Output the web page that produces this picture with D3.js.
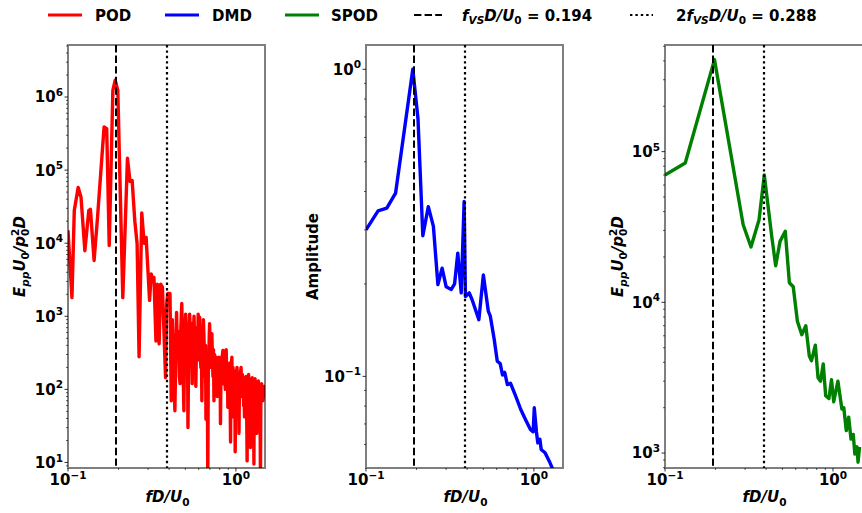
<html>
<head>
<script src="https://d3js.org/d3.v7.min.js"></script>
<style>
body { margin: 0; background: #fff; }
svg text { font-family: "DejaVu Sans", sans-serif; font-weight: bold; fill: #000; white-space: pre; }
.curve { fill: none; stroke-width: 3.4; stroke-linejoin: round; }
.spine { fill: none; stroke: #000; stroke-opacity: 0.5; stroke-width: 2; }
</style>
</head>
<body>
<div id="chart"></div>
<script>
/* POD energy spectrum */
var podFreq = [0.100,0.1056,0.109,0.115,0.1195,0.126,0.133,0.136,0.143,0.150,
  0.164,0.170,0.176,0.185,0.191,0.198,0.212,0.226,0.234,0.241,
  0.250,0.258,0.265,0.275,0.284,0.292,0.306,0.313,0.320,0.325,
  0.334,0.340,0.349,0.356,0.365,0.381,0.387,0.393,0.405,0.412,
  0.418,0.424,0.433,
  0.443,0.449,0.454,0.457,0.461,0.465,0.470,0.476,0.481,0.485,
  0.490,0.495,0.502,0.506,0.510,0.514,0.518,0.524,0.530,0.535,
  0.540,0.544,0.549,0.556,0.563,0.567,0.570,0.574,0.577,0.582,
  0.587,0.591,0.596,0.602,0.608,0.613,0.618,0.622,0.627,0.631,
  0.635,0.640,0.644,0.650,0.655,0.659,0.663,0.668,0.672,0.676,
  0.680,0.685,0.690,0.694,0.697,0.703,0.708,0.713,0.719,0.724,
  0.730,0.735,0.740,0.746,0.752,0.757,0.763,0.769,0.775,0.783,
  0.792,0.796,0.800,0.805,0.809,0.815,0.820,0.828,0.837,0.842,
  0.846,0.850,0.855,0.860,0.865,0.870,0.875,0.880,0.885,0.890,
  0.895,0.902,0.910,0.920,0.929,0.934,0.938,0.942,0.946,0.950,
  0.955,0.961,0.967,0.972,0.978,0.984,0.990,0.997,1.003,1.009,
  1.015,1.022,1.030,1.036,1.043,1.050,1.058,1.065,1.073,1.079,
  1.085,1.092,1.100,1.106,1.112,1.118,1.125,1.132,1.140,1.150,
  1.158,1.166,1.172,1.178,1.184,1.190,1.197,1.205,1.212,1.220,
  1.228,1.235,1.242,1.250,1.257,1.265,1.272,1.280,1.285,1.290,
  1.295,1.300,1.308,1.315,1.322,1.330,1.338,1.345,1.352,1.360,
  1.370,1.380,1.390,1.400,1.408,1.415,1.422,1.430,1.445,1.460,
  1.475,1.490];
var podAmp = [1.5e4,1.8e3,2.8e4,5.8e4,4.3e4,7.9e3,2.8e4,2.9e4,5.8e3,2.3e4,
  3.9e5,3.7e5,9.3e3,1.23e6,1.7e6,1.23e6,1.8e3,1.45e5,7.0e4,7.2e4,
  2.0e4,9.8e3,2.8e2,2.6e4,1.0e4,1.2e4,1.65e3,3.8e3,3.0e3,3.4e3,
  4.6e2,2.75e3,4.2e2,2.75e3,2.5e3,1.45e2,1.5e3,2.05e3,2.05e3,70,
  9e2,3.0e2,51,
  1130,300,620,460,150,120,700,1500,400,180,
  51,500,1070,600,250,700,30,400,1070,650,
  300,800,120,450,1000,500,200,700,110,350,
  600,250,1070,500,970,400,200,500,70,250,
  400,900,600,300,150,400,39,200,300,150,
  5,250,300,550,790,350,200,450,580,300,
  150,350,70,300,250,150,275,180,80,200,
  275,150,100,250,34,180,150,280,340,200,
  120,230,245,130,100,300,350,200,120,220,
  57,200,150,230,19,150,130,220,275,150,
  110,200,42,180,120,160,14,150,100,160,
  200,120,70,150,25,130,110,170,200,130,
  80,160,145,90,60,130,42,140,110,150,
  60,10.5,90,120,90,160,110,50,130,16,
  110,80,120,145,100,50,110,9.5,80,60,
  120,140,100,60,110,25,120,90,110,130,
  80,40,100,6,90,70,120,107,70,87,
  110,107];

/* DMD mode amplitudes */
var dmdFreq = [0.100,0.118,0.133,0.150,0.190,0.204,0.218,0.235,0.252,0.268,
  0.284,0.300,0.322,0.337,0.352,0.369,0.384,0.391,0.412,0.428,
  0.470,0.500,0.535,0.550,0.580,0.605,0.630,0.650,0.670,0.695,
  0.725,0.780,0.835,0.895,0.955,0.990,1.005,1.035,1.055,1.085,
  1.105,1.165,1.205,1.245,1.285,1.325];
var dmdAmp = [0.300,0.346,0.353,0.395,1.000,0.690,0.287,0.357,0.308,0.199,
  0.225,0.196,0.192,0.200,0.252,0.187,0.371,0.182,0.187,0.178,
  0.153,0.214,0.163,0.157,0.132,0.112,0.110,0.101,0.103,0.094,
  0.095,0.086,0.078,0.072,0.067,0.066,0.079,0.066,0.0607,0.0624,
  0.0578,0.0564,0.0543,0.0524,0.0503,0.048];

/* SPOD energy spectrum */
var spodFreq = [0.100,0.132,0.197,0.292,0.325,0.363,0.390,0.432,0.456,0.484,
  0.520,0.550,0.580,0.614,0.652,0.689,0.723,0.745,0.785,0.815,
  0.843,0.875,0.905,0.946,0.980,1.010,1.070,1.130,1.160,1.200,
  1.240,1.280,1.320,1.350,1.390,1.410,1.440];
var spodAmp = [7.0e4,8.4e4,4.08e5,3.27e4,2.33e4,3.53e4,7.0e4,2.74e4,1.75e4,2.54e4,
  2.96e4,1.35e4,1.27e4,7.5e3,6.1e3,7.0e3,4.4e3,4.1e3,5.2e3,3.16e3,
  3.0e3,3.9e3,2.4e3,2.3e3,3.07e3,2.19e3,3.0e3,1.96e3,2.0e3,1.41e3,
  1.73e3,1.24e3,1.33e3,985,1.1e3,870,1.1e3];

var fVS = 0.194;
var xTicks = [0.1, 1];
var podTicks = [1e1, 1e2, 1e3, 1e4, 1e5, 1e6];
var dmdTicks = [0.1, 1];
var spodTicks = [1e3, 1e4, 1e5];
var seriesNames = ["POD", "DMD", "SPOD"];
var seriesColors = ["red", "blue", "green"];

var width = 862;
var height = 513;
var plotTop = 45;
var plotBottom = 468;
var fs = 15;

var svg = d3.select("#chart").append("svg")
  .attr("width", width)
  .attr("height", height);

/* mathtext-ish helper: parts with italic / sub / sup */
function mathText(sel, parts, size) {
  var shift = 0;
  parts.forEach(function(p) {
    var s = p.sub ? 0.25 * size : (p.sup ? -0.42 * size : 0);
    var ts = sel.append("tspan")
      .text(p.t)
      .attr("dy", s - shift)
      .style("font-size", ((p.sub || p.sup) ? 0.7 * size : size) + "px")
      .style("font-style", p.it ? "italic" : "normal");
    if (p.dx) ts.attr("dx", p.dx);
    shift = s;
  });
  return sel;
}
function powLabel(sel, v) {
  var e = Math.round(Math.log10(v));
  return mathText(sel, [{t: "10"}, {t: String(e).replace("-", "\u2212"), sup: true}], fs);
}
function minorTicks(dom) {
  var out = [];
  for (var n = Math.floor(Math.log10(dom[0])); n <= Math.ceil(Math.log10(dom[1])); n++) {
    for (var k = 2; k < 10; k++) {
      var v = k * Math.pow(10, n);
      if (v >= dom[0] && v <= dom[1]) out.push(v);
    }
  }
  return out;
}

var eppLabel = [{t: "E", it: true}, {t: "pp", it: true, sub: true}, {t: "U", it: true},
  {t: "0", sub: true}, {t: "/p", it: true}, {t: "0", sub: true},
  {t: "2", sup: true, dx: -7.3}, {t: "D", it: true}];

var panels = [
  {left: 68, right: 265, xmax: 1.49, freq: podFreq, amp: podAmp, color: seriesColors[0],
   ydom: [8.4, 5.15e6], yticks: podTicks, ylab: eppLabel, labX: 25},
  {left: 366, right: 563, xmax: 1.49, freq: dmdFreq, amp: dmdAmp, color: seriesColors[1],
   ydom: [0.0503, 1.2], yticks: dmdTicks, ylab: [{t: "Amplitude"}], labX: 318},
  {left: 665, right: 864, xmax: 1.53, freq: spodFreq, amp: spodAmp, color: seriesColors[2],
   ydom: [796, 5.1e5], yticks: spodTicks, ylab: eppLabel, labX: 623}
];

panels.forEach(function(p, i) {
  var x = d3.scaleLog().domain([0.1, p.xmax]).range([p.left, p.right]);
  var y = d3.scaleLog().domain(p.ydom).range([plotBottom, plotTop]);
  var g = svg.append("g");

  g.append("clipPath").attr("id", "clip" + i)
    .append("rect")
    .attr("x", p.left).attr("y", plotTop)
    .attr("width", p.right - p.left).attr("height", plotBottom - plotTop);

  /* curve */
  var line = d3.line()
    .x(d => x(d[0]))
    .y(d => y(d[1]));
  g.append("path")
    .attr("class", "curve")
    .attr("clip-path", "url(#clip" + i + ")")
    .attr("d", line(d3.zip(p.freq, p.amp)))
    .style("stroke", p.color);

  /* vortex shedding lines */
  [[fVS, "7.4,3.2", 2], [2 * fVS, "2.4,3", 2.2]].forEach(function(v) {
    var xv = Math.round(x(v[0]));
    g.append("line")
      .attr("x1", xv).attr("x2", xv)
      .attr("y1", plotTop).attr("y2", plotBottom)
      .attr("stroke", "#000").attr("stroke-width", v[2])
      .attr("stroke-dasharray", v[1]);
  });

  /* ticks */
  minorTicks(p.ydom).forEach(function(v) {
    g.append("line").attr("x1", p.left - 2).attr("x2", p.left)
      .attr("y1", y(v)).attr("y2", y(v)).attr("stroke", "#333").attr("stroke-width", 0.8);
  });
  minorTicks([0.1, p.xmax]).forEach(function(v) {
    g.append("line").attr("x1", x(v)).attr("x2", x(v))
      .attr("y1", plotBottom).attr("y2", plotBottom + 2).attr("stroke", "#333").attr("stroke-width", 0.8);
  });
  p.yticks.forEach(function(v) {
    g.append("line").attr("x1", p.left - 3.5).attr("x2", p.left)
      .attr("y1", y(v)).attr("y2", y(v)).attr("stroke", "#333").attr("stroke-width", 1);
    powLabel(g.append("text")
      .attr("x", p.left - 5).attr("y", y(v) + 0.36 * fs)
      .attr("text-anchor", "end").style("font-size", fs + "px"), v);
  });
  xTicks.forEach(function(v) {
    g.append("line").attr("x1", x(v)).attr("x2", x(v))
      .attr("y1", plotBottom).attr("y2", plotBottom + 3.5).attr("stroke", "#333").attr("stroke-width", 1);
    powLabel(g.append("text")
      .attr("x", x(v)).attr("y", 485)
      .attr("text-anchor", "middle").style("font-size", fs + "px"), v);
  });

  /* spines */
  g.append("rect").attr("class", "spine")
    .attr("x", p.left).attr("y", plotTop)
    .attr("width", p.right - p.left).attr("height", plotBottom - plotTop);

  /* axis labels */
  mathText(g.append("text")
    .attr("x", (p.left + Math.min(p.right, 862)) / 2 + 1).attr("y", 502)
    .attr("text-anchor", "middle").style("font-size", fs + "px"),
    [{t: "fD/U", it: true}, {t: "0", sub: true}], fs);
  mathText(g.append("text")
    .attr("transform", "translate(" + p.labX + "," + ((plotTop + plotBottom) / 2) + ") rotate(-90)")
    .attr("text-anchor", "middle").style("font-size", fs + "px"),
    p.ylab, fs);
});

/* legend across the top */
var legendY = 15;
var legendItems = [
  {x: 48, tx: 95, color: seriesColors[0], dash: null, parts: [{t: seriesNames[0]}]},
  {x: 165, tx: 212, color: seriesColors[1], dash: null, parts: [{t: seriesNames[1]}]},
  {x: 285, tx: 331, color: seriesColors[2], dash: null, parts: [{t: seriesNames[2]}]},
  {x: 414, tx: 462, color: "#000", dash: "7.4,3.2", len: 28, w: 2,
   parts: [{t: "f", it: true}, {t: "VS", it: true, sub: true}, {t: "D/U", it: true}, {t: "0", sub: true}, {t: " = 0.194"}]},
  {x: 630, tx: 676, color: "#000", dash: "2.4,3", len: 23, w: 2.2,
   parts: [{t: "2"}, {t: "f", it: true}, {t: "VS", it: true, sub: true}, {t: "D/U", it: true}, {t: "0", sub: true}, {t: " = 0.288"}]}
];
var legend = svg.append("g").attr("class", "legend");
legendItems.forEach(function(d) {
  legend.append("line")
    .attr("x1", d.x).attr("x2", d.x + (d.len || 34))
    .attr("y1", legendY).attr("y2", legendY)
    .attr("stroke", d.color).attr("stroke-width", d.w || 3)
    .attr("stroke-dasharray", d.dash);
  mathText(legend.append("text")
    .attr("x", d.tx).attr("y", legendY + 5.5)
    .style("font-size", fs + "px"), d.parts, fs);
});
</script>
</body>
</html>
